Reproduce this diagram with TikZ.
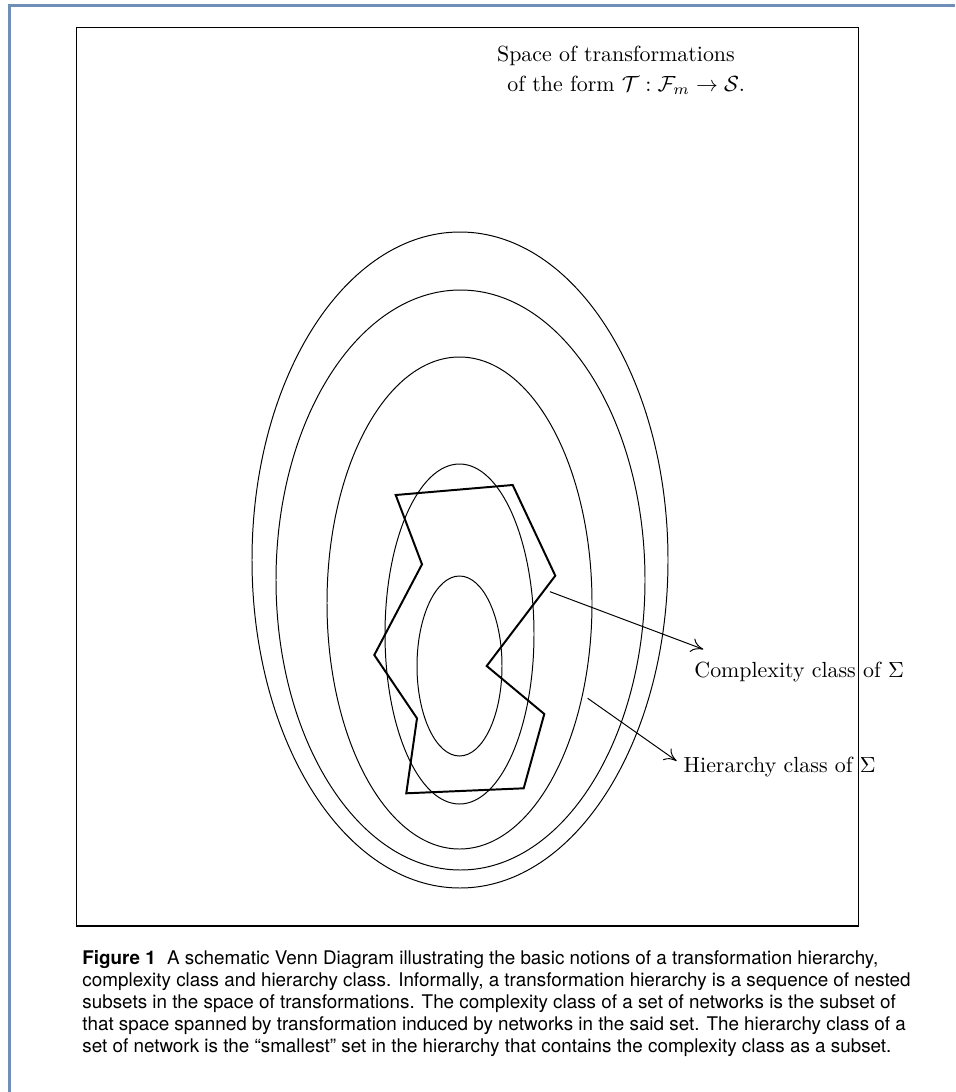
\documentclass[tikz,border=0pt]{standalone}
\usepackage{fontspec}
\newfontfamily\capfont{TeX Gyre Heros}
\usetikzlibrary{positioning, calc, arrows.meta}
\definecolor{framecol}{HTML}{6F8FB8}

\begin{document}
\begin{tikzpicture}[
        x=0.4566pt, y=-0.4566pt,
        font=\fontsize{10}{12}\selectfont,
        set/.style={draw, line width=0.45pt},
        region/.style={draw, line width=0.9pt, line join=miter},
        tag/.style={inner sep=0pt, anchor=base west},
        pointer/.style={-{To[length=5.5pt, width=6.5pt]}, line width=0.45pt},
        caption/.style={inner sep=0pt, anchor=north west, align=left,
                        font=\capfont\fontsize{8.6}{10}\selectfont}
    ]
        \useasboundingbox (0,0) rectangle (955,1092);

        % Frames
        \draw[framecol, line width=1pt] (9.5,1092) |- (955,5.5);
        \draw[line width=0.7pt] (76.5,27.5) rectangle (858.7,926);

        % Nested sets
        \draw[set] (460,560) ellipse [x radius=208, y radius=328];
        \draw[set] (460.5,580) ellipse [x radius=184.5, y radius=290];
        \draw[set] (459.5,603) ellipse [x radius=132.5, y radius=246];
        \draw[set] (459.5,634) ellipse [x radius=74.5, y radius=170];
        \draw[set] (459.5,666) ellipse [x radius=42.5, y radius=90];

        % Complexity class
        \draw[region] (395.7,495) -- (512.7,485) -- (555.3,575.7) -- (486.7,666)
            -- (544.3,714) -- (523.7,788.3) -- (406.3,793.3) -- (417,718.3)
            -- (374.3,655) -- (422,564.3) -- cycle;

        % Labels
        \node[tag] (space1) at (496.7,61) {Space of transformations};
        \node[tag] (space2) at ($(space1.base west)+(10.3,30.7)$)
            {of the form $\mathcal{T}:\mathcal{F}_m\to\mathcal{S}$.};
        \node[tag] (cplx) at (694,677) {Complexity class of $\Sigma$};
        \node[tag] (hier) at (683.3,772) {Hierarchy class of $\Sigma$};

        \coordinate (cplxfrom) at (550,591.7);
        \coordinate (cplxto) at (703.3,649.3);
        \coordinate (hierfrom) at (587.7,698.3);
        \coordinate (hierto) at (676.7,761);

        \draw[pointer] (cplxfrom) -- (cplxto);
        \draw[pointer] (hierfrom) -- (hierto);

        % Caption
        \node[caption] (cap) at (82,950) {\textbf{Figure 1}\hspace{0.6em}A schematic Venn Diagram illustrating the basic notions of a transformation hierarchy,\\
complexity class and hierarchy class. Informally, a transformation hierarchy is a sequence of nested\\
subsets in the space of transformations. The complexity class of a set of networks is the subset of\\
that space spanned by transformation induced by networks in the said set. The hierarchy class of a\\
set of network is the “smallest” set in the hierarchy that contains the complexity class as a subset.};
\end{tikzpicture}
\end{document}
